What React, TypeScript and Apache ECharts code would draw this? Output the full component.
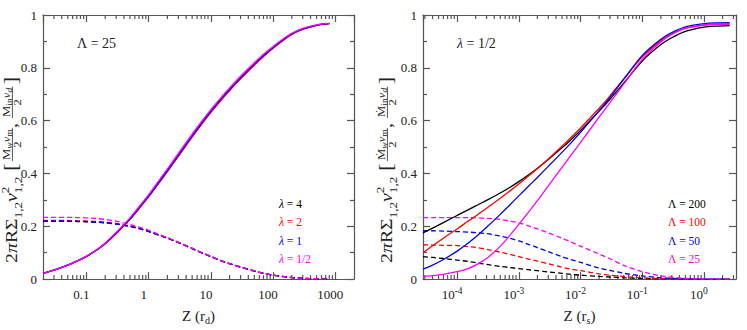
import React, { useEffect, useRef } from 'react';
import * as echarts from 'echarts';

const SERIF = 'Liberation Serif';
const AXIS_COLOR = '#555555';
const TEXT_COLOR = '#222222';
const COLORS = ['#000000', '#ff0000', '#0000ff', '#ff00ff'];

// ---------- Left panel (Lambda = 25) ----------
const leftZ = [0.02, 0.03, 0.05, 0.07, 0.1, 0.15, 0.2, 0.3, 0.5, 0.7, 1, 1.5, 2, 3, 5, 7, 10, 15, 20, 30, 50, 70, 100, 150, 200, 300, 500, 800];
const leftSolid_l4 = [0.022, 0.034, 0.053, 0.068, 0.086, 0.112, 0.135, 0.173, 0.227, 0.268, 0.313, 0.369, 0.409, 0.467, 0.540, 0.586, 0.633, 0.683, 0.716, 0.760, 0.812, 0.844, 0.875, 0.907, 0.927, 0.946, 0.961, 0.967];
const leftSolid_l2 = [0.022, 0.034, 0.053, 0.068, 0.086, 0.112, 0.134, 0.172, 0.226, 0.267, 0.312, 0.367, 0.407, 0.465, 0.538, 0.584, 0.631, 0.681, 0.714, 0.758, 0.810, 0.843, 0.874, 0.906, 0.926, 0.946, 0.961, 0.967];
const leftSolid_l1 = [0.022, 0.034, 0.053, 0.068, 0.086, 0.112, 0.135, 0.174, 0.228, 0.270, 0.315, 0.371, 0.411, 0.470, 0.543, 0.589, 0.636, 0.686, 0.719, 0.763, 0.815, 0.847, 0.878, 0.909, 0.929, 0.947, 0.962, 0.968];
const leftSolid_lh = [0.022, 0.034, 0.053, 0.068, 0.087, 0.113, 0.137, 0.177, 0.232, 0.274, 0.320, 0.377, 0.417, 0.476, 0.549, 0.595, 0.642, 0.691, 0.724, 0.768, 0.819, 0.851, 0.881, 0.912, 0.931, 0.949, 0.963, 0.968];
const leftDash_l4 = [0.219, 0.219, 0.219, 0.218, 0.217, 0.215, 0.213, 0.208, 0.199, 0.191, 0.180, 0.165, 0.155, 0.138, 0.115, 0.100, 0.085, 0.068, 0.058, 0.045, 0.030, 0.022, 0.015, 0.009, 0.006, 0.003, 0.0012, 0.0005];
const leftDash_l2 = [0.222, 0.222, 0.222, 0.221, 0.220, 0.218, 0.215, 0.210, 0.201, 0.193, 0.182, 0.166, 0.156, 0.139, 0.116, 0.100, 0.085, 0.068, 0.058, 0.045, 0.030, 0.022, 0.015, 0.009, 0.006, 0.003, 0.0012, 0.0005];
const leftDash_l1 = [0.220, 0.220, 0.220, 0.219, 0.218, 0.216, 0.214, 0.209, 0.200, 0.192, 0.181, 0.166, 0.156, 0.139, 0.116, 0.101, 0.086, 0.069, 0.059, 0.046, 0.031, 0.022, 0.015, 0.009, 0.006, 0.003, 0.0012, 0.0005];
const leftDash_lh = [0.234, 0.234, 0.234, 0.233, 0.232, 0.229, 0.226, 0.219, 0.207, 0.197, 0.185, 0.168, 0.157, 0.140, 0.117, 0.101, 0.086, 0.069, 0.059, 0.046, 0.031, 0.022, 0.015, 0.009, 0.006, 0.003, 0.0012, 0.0005];
const leftLegend = ['4', '2', '1', '1/2'];
const leftTickLabels: Record<string, string> = { '-1': '0.1', '0': '1', '1': '10', '2': '100', '3': '1000' };
const leftRange = [0.02, 2000];

// ---------- Right panel (lambda = 1/2) ----------
const rightZ = [2.8e-5, 4e-5, 6e-5, 1e-4, 1.5e-4, 2e-4, 3e-4, 5e-4, 7e-4, 1e-3, 1.5e-3, 2e-3, 3e-3, 5e-3, 7e-3, 1e-2, 2e-2, 3e-2, 5e-2, 0.1, 0.2, 0.3, 0.5, 1, 1.5, 2.6];
const rightSolid_L200 = [0.175, 0.193, 0.214, 0.241, 0.262, 0.277, 0.298, 0.326, 0.346, 0.369, 0.398, 0.420, 0.453, 0.497, 0.528, 0.563, 0.636, 0.681, 0.742, 0.826, 0.888, 0.914, 0.938, 0.954, 0.958, 0.960];
const rightSolid_L100 = [0.100, 0.126, 0.155, 0.190, 0.219, 0.239, 0.268, 0.306, 0.332, 0.360, 0.394, 0.419, 0.455, 0.503, 0.536, 0.572, 0.647, 0.694, 0.758, 0.842, 0.903, 0.928, 0.950, 0.962, 0.965, 0.966];
const rightSolid_L50 = [0.038, 0.053, 0.074, 0.106, 0.136, 0.159, 0.196, 0.245, 0.279, 0.315, 0.356, 0.385, 0.427, 0.480, 0.516, 0.556, 0.638, 0.688, 0.756, 0.847, 0.908, 0.933, 0.955, 0.967, 0.970, 0.971];
const rightSolid_L25 = [0.010, 0.013, 0.018, 0.028, 0.040, 0.053, 0.078, 0.124, 0.163, 0.207, 0.259, 0.297, 0.353, 0.423, 0.469, 0.518, 0.613, 0.668, 0.738, 0.832, 0.898, 0.926, 0.949, 0.962, 0.965, 0.966];
const rightDash_L200 = [0.085, 0.082, 0.078, 0.072, 0.067, 0.062, 0.056, 0.048, 0.044, 0.040, 0.035, 0.032, 0.027, 0.022, 0.018, 0.015, 0.010, 0.008, 0.005, 0.002, 0.001, 0.0005, 0.0002, 0, 0, 0];
const rightDash_L100 = [0.130, 0.129, 0.128, 0.127, 0.123, 0.120, 0.113, 0.102, 0.094, 0.085, 0.075, 0.068, 0.058, 0.045, 0.038, 0.032, 0.020, 0.015, 0.010, 0.005, 0.002, 0.001, 0.0005, 0, 0, 0];
const rightDash_L50 = [0.183, 0.183, 0.182, 0.180, 0.178, 0.176, 0.172, 0.163, 0.155, 0.145, 0.130, 0.119, 0.104, 0.085, 0.074, 0.063, 0.042, 0.033, 0.022, 0.012, 0.005, 0.003, 0.001, 0, 0, 0];
const rightDash_L25 = [0.233, 0.233, 0.233, 0.233, 0.233, 0.232, 0.230, 0.226, 0.220, 0.213, 0.200, 0.190, 0.175, 0.155, 0.140, 0.125, 0.095, 0.077, 0.052, 0.028, 0.012, 0.007, 0.003, 0.001, 0.0005, 0];
const rightLegend = ['200', '100', '50', '25'];
const rightTickLabels: Record<string, string> = { '-4': '10{sup|-4}', '-3': '10{sup|-3}', '-2': '10{sup|-2}', '-1': '10{sup|-1}', '0': '10{sup|0}' };
const rightRange = [2.8e-5, 3.3];

const minorMultipliers = [2, 3, 4, 5, 6, 7, 8, 9];
const leftDecades = [0.01, 0.1, 1, 10, 100, 1000];
const rightDecades = [1e-5, 1e-4, 1e-3, 1e-2, 1e-1, 1];

function minorTicks(decades: number[], range: number[]) {
  const out: number[] = [];
  decades.forEach((d) => minorMultipliers.forEach((m) => {
    const v = d * m;
    if (v > range[0] * 1.0001 && v < range[1] * 0.9999) out.push(v);
  }));
  return out;
}

// ---------- helpers ----------
function fontOf(size: number, italic = false) {
  return `${italic ? 'italic ' : ''}${size}px ${SERIF}`;
}

let measureCtx: CanvasRenderingContext2D | null = null;
function measure(t: string, size: number, italic = false) {
  if (!measureCtx) measureCtx = document.createElement('canvas').getContext('2d');
  measureCtx!.font = fontOf(size, italic);
  return measureCtx!.measureText(t).width;
}

function textEl(t: string, x: number, baseline: number, size: number, italic = false) {
  return {
    type: 'text',
    x,
    y: baseline - 0.34 * size,
    silent: true,
    style: {
      text: t,
      font: fontOf(size, italic),
      fill: TEXT_COLOR,
      align: 'left',
      verticalAlign: 'middle',
      textAlign: 'left',
      textVerticalAlign: 'middle',
    },
  };
}

type P = { t: string; size: number; italic?: boolean; dy?: number };

function buildYTitle(dotted: boolean, baseX: number, bottomY: number, targetLen: number) {
  const S = 17;
  const s = S * 0.66;
  const fs = S * 0.64;
  const ss = S * 0.48;
  const els: any[] = [];
  let x = 0;
  const run = (t: string, size: number, italic = false, dy = 0) => {
    els.push(textEl(t, x, dy, size, italic));
    x += measure(t, size, italic);
  };
  run('2', S);
  run('π', S, true);
  run('RΣ', S);
  run('1,2', s, false, 0.3 * S);
  run('v', S, true);
  const w1 = measure('2', s);
  const w2 = measure('1,2', s);
  els.push(textEl('2', x, -0.45 * S, s));
  els.push(textEl('1,2', x, 0.3 * S, s));
  x += Math.max(w1, w2) + 0.3 * S;
  run('[', S * 1.1);
  x += 0.12 * S;
  const frac = (num: P[], den: P[]) => {
    const numW = num.reduce((a, p) => a + measure(p.t, p.size, p.italic), 0);
    const denW = den.reduce((a, p) => a + measure(p.t, p.size, p.italic), 0);
    const fw = Math.max(numW, denW) + 0.12 * S;
    const barY = -0.27 * S;
    let nx = x + (fw - numW) / 2;
    num.forEach((p) => {
      els.push(textEl(p.t, nx, barY - 0.15 * S + (p.dy || 0), p.size, p.italic));
      nx += measure(p.t, p.size, p.italic);
    });
    let dx = x + (fw - denW) / 2;
    den.forEach((p) => {
      els.push(textEl(p.t, dx, barY + 0.5 * S, p.size, p.italic));
      dx += measure(p.t, p.size, p.italic);
    });
    els.push({
      type: 'line', silent: true,
      shape: { x1: x, y1: barY, x2: x + fw, y2: barY },
      style: { stroke: TEXT_COLOR, lineWidth: 0.7 },
    });
    x += fw;
  };
  const M = dotted ? 'Ṁ' : 'M';
  frac(
    [{ t: M, size: fs }, { t: 'w', size: ss, italic: true, dy: 0.1 * S }, { t: 'v', size: fs, italic: true }, { t: 'm', size: ss, dy: 0.1 * S }],
    [{ t: '2', size: fs }],
  );
  run(',', S);
  x += 0.25 * S;
  frac(
    [{ t: M, size: fs }, { t: 'in', size: ss, dy: 0.1 * S }, { t: 'v', size: fs, italic: true }, { t: 'd', size: ss, italic: true, dy: 0.1 * S }],
    [{ t: '2', size: fs }],
  );
  x += 0.12 * S;
  run(']', S * 1.1);
  const k = targetLen / x;
  return {
    type: 'group',
    x: baseX,
    y: bottomY,
    rotation: Math.PI / 2,
    scaleX: k,
    scaleY: 1,
    children: els,
  };
}

function legendText(x: number, y: number, symbol: string, italic: boolean, value: string, color: string, size: number) {
  return {
    type: 'text',
    x,
    y,
    silent: true,
    style: {
      text: `{s|${symbol}}{n| = ${value}}`,
      rich: {
        s: { font: fontOf(size, italic), fontFamily: SERIF, fontSize: size, fontStyle: italic ? 'italic' : 'normal', fill: color },
        n: { font: fontOf(size), fontFamily: SERIF, fontSize: size, fill: color },
      },
      font: fontOf(size),
      fill: color,
      align: 'left',
      verticalAlign: 'middle',
      textAlign: 'left',
      textVerticalAlign: 'middle',
    },
  };
}

const axisLineStyle = { color: AXIS_COLOR, width: 1.2 };
const labelBase = { fontFamily: SERIF, fontSize: 13, color: TEXT_COLOR };

function logX(grid: number, range: number[], pos: 'bottom' | 'top', labels: Record<string, string> | null, name: string) {
  return {
    type: 'log',
    logBase: 10,
    gridIndex: grid,
    min: range[0],
    max: range[1],
    position: pos,
    axisLine: { show: true, onZero: false, lineStyle: axisLineStyle },
    axisTick: { show: true, inside: true, length: 7, lineStyle: axisLineStyle },
    minorTick: { show: false },
    splitLine: { show: false },
    axisLabel: labels
      ? {
          show: true,
          interval: 0,
          showMinLabel: false,
          showMaxLabel: false,
          margin: 7,
          padding: [0, 10, 0, 0],
          ...labelBase,
          lineHeight: 16,
          rich: { sup: { fontFamily: SERIF, fontSize: 9.5, color: TEXT_COLOR, verticalAlign: 'top', lineHeight: 9 } },
          formatter: (v: number) => {
            const e = Math.log10(v);
            const r = Math.round(e);
            if (Math.abs(e - r) > 1e-6) return '';
            return labels[String(r)] || '';
          },
        }
      : { show: false },
    name: labels ? name : '',
    nameLocation: 'middle',
    nameGap: 17,
    nameTextStyle: {
      fontFamily: SERIF, fontSize: 15, color: TEXT_COLOR, lineHeight: 18,
      rich: { sub: { fontFamily: SERIF, fontSize: 10, color: TEXT_COLOR, verticalAlign: 'bottom', lineHeight: 9 } },
    },
  };
}

function valY(grid: number, pos: 'left' | 'right', showLabels: boolean) {
  return {
    type: 'value',
    gridIndex: grid,
    min: 0,
    max: 1,
    interval: 0.2,
    position: pos,
    axisLine: { show: true, onZero: false, lineStyle: axisLineStyle },
    axisTick: { show: true, inside: true, length: 7, lineStyle: axisLineStyle },
    minorTick: { show: true, splitNumber: 2, length: 4, lineStyle: axisLineStyle },
    splitLine: { show: false },
    minorSplitLine: { show: false },
    axisLabel: showLabels ? { show: true, margin: 6, ...labelBase } : { show: false },
  };
}

function lineSeries(xIdx: number, yIdx: number, xs: number[], ys: number[], color: string, dashed: boolean) {
  return {
    type: 'line',
    xAxisIndex: xIdx,
    yAxisIndex: yIdx,
    data: xs.map((x, i) => [x, ys[i]]),
    symbol: 'none',
    showSymbol: false,
    smooth: 0.3,
    silent: true,
    lineStyle: { color, width: 1.3, type: dashed ? [5, 3] : 'solid' },
    itemStyle: { color },
  };
}

function minorSeries(xIdx: number, yIdx: number, values: number[]) {
  return {
    type: 'custom',
    xAxisIndex: xIdx,
    yAxisIndex: yIdx,
    silent: true,
    clip: false,
    data: values.map((v) => [v, 0.5]),
    renderItem: (params: any, api: any) => {
      const p = api.coord([api.value(0), 0.5]);
      const cs = params.coordSys;
      const yb = cs.y + cs.height;
      const yt = cs.y;
      return {
        type: 'group',
        children: [
          { type: 'line', shape: { x1: p[0], y1: yb, x2: p[0], y2: yb - 4 }, style: { stroke: AXIS_COLOR, lineWidth: 1.2 } },
          { type: 'line', shape: { x1: p[0], y1: yt, x2: p[0], y2: yt + 4 }, style: { stroke: AXIS_COLOR, lineWidth: 1.2 } },
        ],
      };
    },
  };
}

function buildOption() {
  const leftSolids = [leftSolid_l4, leftSolid_l2, leftSolid_l1, leftSolid_lh];
  const leftDashes = [leftDash_l4, leftDash_l2, leftDash_l1, leftDash_lh];
  const rightSolids = [rightSolid_L200, rightSolid_L100, rightSolid_L50, rightSolid_L25];
  const rightDashes = [rightDash_L200, rightDash_L100, rightDash_L50, rightDash_L25];

  const series: any[] = [
    minorSeries(0, 0, minorTicks(leftDecades, leftRange)),
    minorSeries(2, 2, minorTicks(rightDecades, rightRange)),
  ];
  leftDashes.forEach((d, i) => series.push(lineSeries(0, 0, leftZ, d, COLORS[i], true)));
  leftSolids.forEach((d, i) => series.push(lineSeries(0, 0, leftZ, d, COLORS[i], false)));
  rightDashes.forEach((d, i) => series.push(lineSeries(2, 2, rightZ, d, COLORS[i], true)));
  rightSolids.forEach((d, i) => series.push(lineSeries(2, 2, rightZ, d, COLORS[i], false)));

  const graphic: any[] = [
    buildYTitle(false, 17, 263, 186),
    buildYTitle(true, 392, 263, 186),
    legendText(77, 43, 'Λ', false, '25', TEXT_COLOR, 14),
    legendText(457, 43, 'λ', true, '1/2', TEXT_COLOR, 14),
  ];
  const legY = [204, 222, 241, 259];
  leftLegend.forEach((v, i) => graphic.push(legendText(279, legY[i], 'λ', true, v, COLORS[i], 11.5)));
  rightLegend.forEach((v, i) => graphic.push(legendText(668, legY[i], 'Λ', false, v, COLORS[i], 11.5)));

  return {
    animation: false,
    backgroundColor: '#ffffff',
    textStyle: { fontFamily: SERIF },
    grid: [
      { left: 43, top: 15, width: 311, height: 274, containLabel: false },
      { left: 423, top: 15, width: 313, height: 274, containLabel: false },
    ],
    xAxis: [
      logX(0, leftRange, 'bottom', leftTickLabels, 'Z (r{sub|d})'),
      logX(0, leftRange, 'top', null, ''),
      logX(1, rightRange, 'bottom', rightTickLabels, 'Z (r{sub|s})'),
      logX(1, rightRange, 'top', null, ''),
    ],
    yAxis: [valY(0, 'left', true), valY(0, 'right', false), valY(1, 'left', true), valY(1, 'right', false)],
    series,
    graphic,
  };
}

export default function App() {
  const ref = useRef<HTMLDivElement>(null);
  useEffect(() => {
    const el = ref.current;
    if (!el) return;
    const chart = echarts.init(el, null, { renderer: 'svg' });
    chart.setOption(buildOption() as any);
    return () => chart.dispose();
  }, []);
  return <div ref={ref} style={{ position: 'absolute', left: 0, top: 0, width: 747, height: 330 }} />;
}
